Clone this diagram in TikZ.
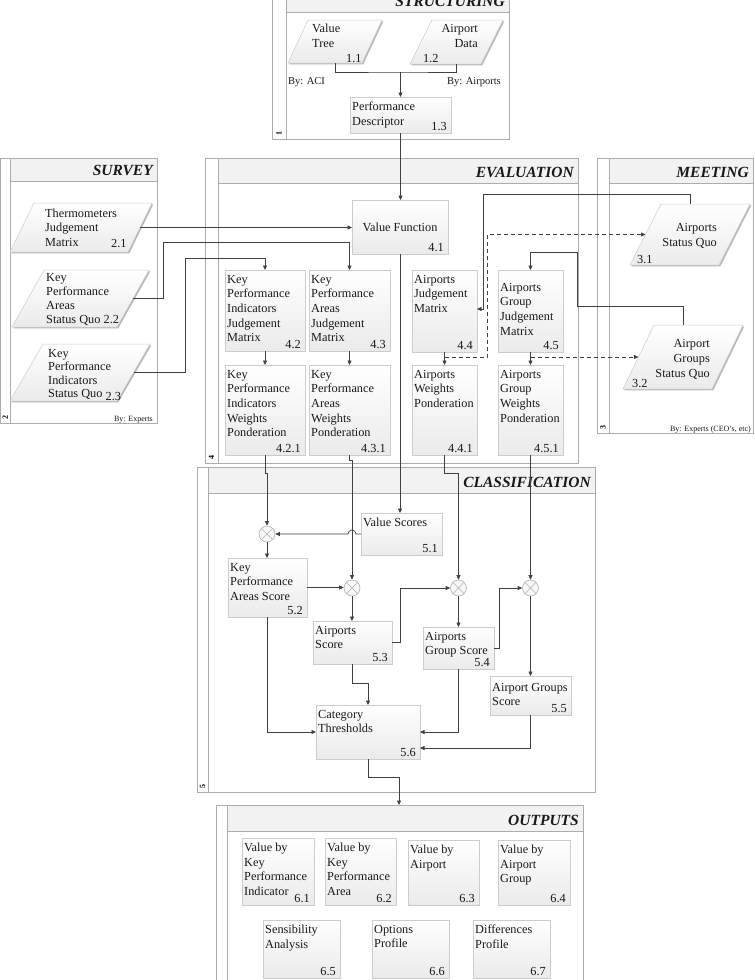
\documentclass[tikz,border=0pt]{standalone}
\usepackage{fontspec}
\setmainfont{Liberation Serif}
\usetikzlibrary{arrows.meta,shadows}

\tikzset{
 x=1pt, y=-1pt,
 bbox/.style={draw=none, inner sep=0pt, outer sep=0pt},
 boxs/.style={draw=gray!40, line width=0.5pt, inner sep=0pt, outer sep=0pt, top color=white, bottom color=gray!16, drop shadow={shadow xshift=1.3pt, shadow yshift=-1.3pt, fill=gray!80, opacity=0.7}},
 parbox/.style={draw=gray!40, line width=0.5pt, top color=white, bottom color=gray!16, drop shadow={shadow xshift=1.3pt, shadow yshift=-1.3pt, fill=gray!80, opacity=0.7}},
 txt/.style={font=\fontsize{12.3}{14.6}\selectfont, align=left, inner sep=0pt, text=black!90},
 txtf/.style={font=\fontsize{12.3}{14.2}\selectfont, align=left, inner sep=0pt, text=black!90},
 txtn/.style={font=\fontsize{12.3}{13.5}\selectfont, align=left, inner sep=0pt, text=black!90},
 txtr/.style={font=\fontsize{12.3}{15.2}\selectfont, align=right, inner sep=0pt, text=black!90},
 num/.style={font=\fontsize{12.3}{14.6}\selectfont, inner sep=0pt, text=black!90},
 bytxt/.style={font=\fontsize{10.5}{12}\selectfont, inner sep=0pt, text=black!90},
 bysm/.style={font=\fontsize{8}{10}\selectfont, inner sep=0pt, text=black!90},
 ttl/.style={font=\fontsize{15.5}{18}\selectfont\bfseries\itshape, inner sep=0pt, text=black!90},
 pnum/.style={font=\fontsize{8}{9}\selectfont\bfseries, inner sep=0pt, rotate=90},
 pline/.style={draw=gray!65, line width=0.8pt},
 conn/.style={draw=black!75, line width=0.7pt},
 arr/.style={conn, -{Triangle[length=4.5pt,width=4pt]}},
 darr/.style={arr, dash pattern=on 4pt off 3pt},
 mult/.style={circle, minimum size=16pt, inner sep=0pt, draw=gray!60, fill=gray!6, line width=0.6pt,
   path picture={\draw[gray!60, line width=0.6pt] (path picture bounding box.north west) -- (path picture bounding box.south east) (path picture bounding box.north east) -- (path picture bounding box.south west);}}
}

% name x1 y1 x2 y2 stripx headery title number
\newcommand{\panel}[9]{%
 \node[bbox, minimum width={#4-#2}, minimum height={#5-#3}, anchor=north west] (#1) at (#2,#3) {};
 \fill[white] (#2,#3) rectangle (#4,#5);
 \fill[gray!10] (#6,#3) rectangle (#4,#7);
 \draw[pline] (#2,#3) rectangle (#4,#5) (#6,#3) -- (#6,#5) (#6,#7) -- (#4,#7);
 \node[ttl, anchor=base east] (#1-t) at (#4-4,#7-6) {#8};
 \node[pnum] (#1-n) at ({(#2+#6)/2},#5-6) {#9};
}
\newcommand{\numbox}[6]{%
 \node[boxs, minimum width={#4-#2}, minimum height={#5-#3}, anchor=north west] (#1) at (#2,#3) {};
 \node[num, anchor=base east] (#1-n) at ([xshift=-4pt,yshift=2.5pt]#1.south east) {#6};
}
\newcommand{\mybox}[7]{%
 \numbox{#1}{#2}{#3}{#4}{#5}{#7}
 \node[txt, anchor=north west] (#1-t) at ([xshift=2pt,yshift=-5pt]#1.north west) {#6};
}
\newcommand{\mypar}[6]{%
 \node[bbox, minimum width={#4-#2}, minimum height={#5-#3}, anchor=north west] (#1) at (#2,#3) {};
 \path[parbox] ([xshift=#6pt]#1.north west) -- (#1.north east) -- ([xshift=-#6pt]#1.south east) -- (#1.south west) -- cycle;
}

\begin{document}
\begin{tikzpicture}
\useasboundingbox (0,0) rectangle (755,980);
\clip (0,0) rectangle (755,980);

% ---------- panels ----------
\panel{psur}{0.5}{158}{157}{423}{10}{181}{SURVEY}{2}
\panel{pmee}{597}{158}{753}{433}{609}{183}{MEETING}{3}
\panel{pstr}{272}{-20}{509}{139}{286}{12}{STRUCTURING}{1}
\panel{peva}{205}{158}{578}{463}{218}{183}{EVALUATION}{4}
\panel{pcla}{197}{467}{595}{792}{208}{493}{CLASSIFICATION}{5}
\panel{pout}{216}{805}{583}{995}{227}{831}{OUTPUTS}{}

% ---------- structuring ----------
\mypar{vt}{288}{20}{382}{63}{20}
\node[txt, anchor=north west] (vt-t) at (312,24) {Value\\Tree};
\node[num, anchor=base west] (vt-n) at (346,62) {1.1};
\mypar{ad}{410}{20}{503}{64}{22}
\node[txtr, anchor=north east] (ad-t) at (478,24) {Airport\\Data};
\node[num, anchor=base west] (ad-n) at (423,62) {1.2};
\mybox{pd}{350}{97}{451}{133}{Performance\\Descriptor}{1.3}
\node[bytxt, anchor=base west] (by1) at (288,84) {By: ACI};
\node[bytxt, anchor=base east] (by2) at (501,84) {By: Airports};

% ---------- survey ----------
\mypar{t21}{10}{203}{152}{252}{24}
\node[txtf, anchor=north west] (t21-t) at (45,209) {Thermometers\\Judgement\\Matrix};
\node[num, anchor=base west] (t21-n) at (111,247) {2.1};
\mypar{t22}{12}{270}{149}{327}{32}
\node[txtf, anchor=north west] (t22-t) at (46,273) {Key\\Performance\\Areas\\Status Quo 2.2};
\mypar{t23}{10}{344}{150}{401}{33}
\node[txtn, anchor=north west] (t23-t) at (48,349) {Key\\Performance\\Indicators\\Status Quo \raisebox{-3pt}{2.3}};
\node[bysm, anchor=base east] (by3) at (153,421) {By: Experts};

% ---------- meeting ----------
\mypar{t31}{630}{204}{750}{265}{31}
\node[txtr, anchor=north east] (t31-t) at (717,223) {Airports\\Status Quo};
\node[num, anchor=base west] (t31-n) at (637,263.5) {3.1};
\mypar{t32}{623}{325}{743}{389}{31}
\node[txtr, anchor=north east] (t32-t) at (710,339) {Airport\\Groups\\Status Quo};
\node[num, anchor=base west] (t32-n) at (632,387) {3.2};
\node[bysm, anchor=base east] (by4) at (751,431) {By: Experts (CEO's, etc)};

% ---------- evaluation ----------
\numbox{vf}{352}{200}{448}{254}{4.1}
\node[txt] (vf-t) at (400,227) {Value Function};
\mybox{b42}{225}{270}{305}{351}{Key\\Performance\\Indicators\\Judgement\\Matrix}{4.2}
\mybox{b43}{309}{270}{390}{351}{Key\\Performance\\Areas\\Judgement\\Matrix}{4.3}
\mybox{b44}{412}{270}{477}{352}{Airports\\Judgement\\Matrix}{4.4}
\mybox{b45}{498}{270}{563}{352}{\rule{0pt}{16pt}Airports\\Group\\Judgement\\Matrix}{4.5}
\mybox{b421}{225}{365}{305}{455}{Key\\Performance\\Indicators\\Weights\\Ponderation}{4.2.1}
\mybox{b431}{309}{365}{390}{455}{Key\\Performance\\Areas\\Weights\\Ponderation}{4.3.1}
\mybox{b441}{412}{365}{477}{455}{Airports\\Weights\\Ponderation}{4.4.1}
\mybox{b451}{498}{365}{563}{455}{Airports\\Group\\Weights\\Ponderation}{4.5.1}

% ---------- classification ----------
\node[mult] (c1) at (267,534) {};
\node[mult] (c2) at (352,588) {};
\node[mult] (c3) at (458.5,588) {};
\node[mult] (c4) at (530.5,588) {};
\mybox{b51}{361}{513}{442}{555}{Value Scores}{5.1}
\mybox{b52}{228}{558}{307}{617}{Key\\Performance\\Areas Score}{5.2}
\mybox{b53}{313}{621}{392}{664}{Airports\\Score}{5.3}
\mybox{b54}{423}{627}{494}{669}{Airports\\Group Score}{5.4}
\mybox{b55}{490}{676}{571}{715}{\rule{0pt}{10pt}Airport Groups\\Score}{5.5}
\mybox{b56}{316}{705}{420}{759}{Category\\Thresholds}{5.6}

% ---------- outputs ----------
\mybox{b61}{242}{838}{314}{905}{Value by\\Key\\Performance\\Indicator}{6.1}
\mybox{b62}{325}{838}{396}{905}{Value by\\Key\\Performance\\Area}{6.2}
\mybox{b63}{408}{840}{479}{905}{Value by\\Airport}{6.3}
\mybox{b64}{498}{840}{570}{905}{Value by\\Airport\\Group}{6.4}
\mybox{b65}{263}{920}{340}{978}{Sensibility\\Analysis}{6.5}
\mybox{b66}{372}{920}{449}{978}{Options\\Profile}{6.6}
\mybox{b67}{473}{920}{550}{978}{Differences\\Profile}{6.7}

% ---------- connectors ----------
\coordinate (j1) at (400.5,72);
\draw[conn] (vt.south) |- (j1) -| (ad.south);
\draw[arr] (j1) -- (pd.north);
\draw[arr] (pd.south) -- (pd.south |- vf.north);

\draw[arr] ([xshift=-12pt]t21.east) -- (t21.east -| vf.west);
\draw[arr] ([xshift=-16pt]t22.east) -| (163,242) -| (b43.north);
\draw[arr] ([xshift=-16pt]t23.east) -| (185,258) -| (b42.north);

\coordinate (m1) at (483,309);
\draw[arr] (t31.north) -- ++(0,-10) -| (m1) -- (m1 -| b44.east);
\draw[arr] (t32.north) -- ++(0,-19) -| (577,252) -| (b45.north);

\draw[arr] (b42.south) -- (b421.north);
\draw[arr] (b43.south) -- (b431.north);
\draw[arr] (b44.south) -- (b441.north);
\draw[arr] (b45.south) -- (b451.north);

\coordinate (d1) at (444.5,357);
\coordinate (d2) at (530.5,357);
\draw[darr] (d1) -| (487,234.5) -- ([xshift=15.5pt]t31.west);
\draw[darr] (d2) -- ([xshift=15.5pt]t32.west);

\draw[arr] (b421.south) |- (267,473) -- (c1.north);
\draw[arr] (b431.south) |- (352,460) -- (c2.north);
\draw[arr] (b441.south) |- (458.5,473) -- (c3.north);
\draw[arr] (b451.south) -- (c4.north);
\draw[arr] (vf.south) -- (vf.south |- b51.north);
\draw[arr] (b51.west) -- (356,534) arc[start angle=0, end angle=-180, radius=4] -- (c1.east);

\draw[arr] (c1.south) -- (c1.south |- b52.north);
\draw[arr] (b52.east) -- (b52.east -| c2.west);
\draw[arr] (c2.south) -- (c2.south |- b53.north);
\draw[arr] (b53.east) -| (400,588) -- (c3.west);
\draw[arr] (c3.south) -- (c3.south |- b54.north);
\draw[arr] (b54.east) -| (499.5,588) -- (c4.west);
\draw[arr] (c4.south) -- (c4.south |- b55.north);

\draw[arr] (b52.south) |- (b56.west);
\draw[arr] (b53.south) |- (368,683) -- (b56.north);
\draw[arr] (b54.south) |- (b56.east);
\draw[arr] (b55.south) |- ([yshift=-16pt]b56.east);

\coordinate (o1) at (399,777);
\draw[arr] (b56.south) |- (o1) -- (o1 |- pout.north);
\end{tikzpicture}
\end{document}
